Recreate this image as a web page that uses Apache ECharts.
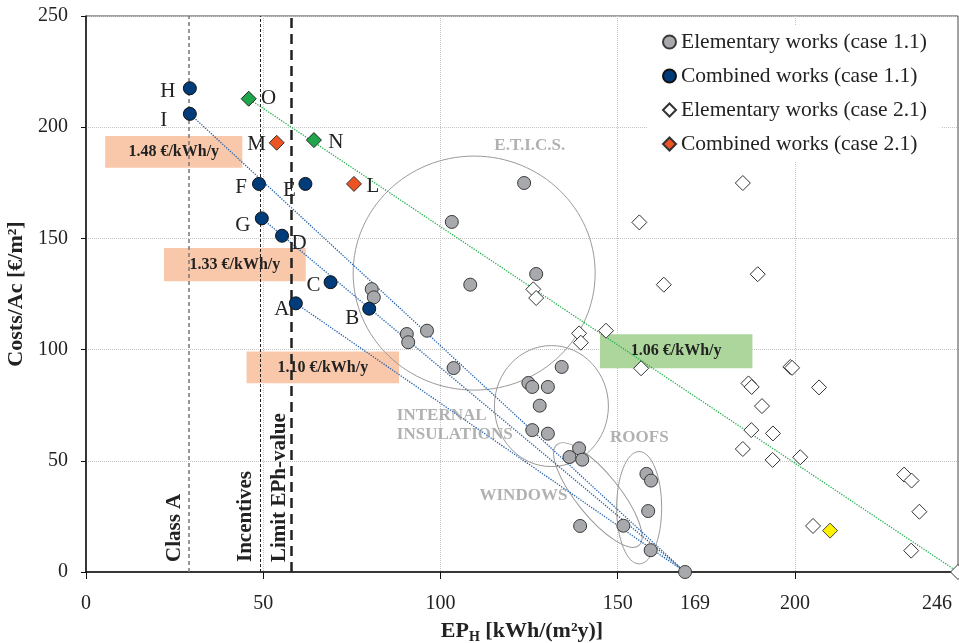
<!DOCTYPE html>
<html>
<head>
<meta charset="utf-8">
<script src="https://cdn.jsdelivr.net/npm/echarts@6/dist/echarts.min.js"></script>
<style>
html, body { margin: 0; padding: 0; background: #fff; }
#chart { width: 959px; height: 643px; }
</style>
</head>
<body>
<div id="chart"></div>
<script>
// EP_H [kWh/(m2y)] , Costs/Ac [EUR/m2]
const elem11 = [
  [80.6,127.2],[81.2,123.5],[90.5,107],[90.9,103.3],[96.2,108.5],[103.2,157.4],[103.7,91.7],
  [108.4,129.2],[123.6,174.9],[124.8,85],[125.9,83.2],[127,134],[128,74.8],[125.9,63.8],
  [130.3,83.2],[130.3,62.2],[134.2,92.2],[139.1,55.6],[136.4,51.7],[140,50.5],[139.4,20.7],
  [151.6,20.8],[158.1,44.1],[159.4,41.1],[158.6,27.4],[159.3,9.8],[169,0]
];
const comb11 = [
  [29.3,217.5,'H'],[29.3,206,'I'],[48.8,174.5,'F'],[61.9,174.5,'E'],[49.6,159,'G'],
  [55.3,151.2,'D'],[69,130.3,'C'],[59.2,120.8,'A'],[79.9,118.4,'B']
];
const elem21 = [
  [126.2,127.1],[127,123.2],[139.1,107.3],[139.6,103.1],[146.7,108.5],[156.1,157.2],[163,129.2],
  [156.6,91.6],[185.3,174.9],[189.5,133.9],[198.7,92.2],[199.2,91.8],[186.9,84.8],[187.8,83.2],
  [206.8,83],[190.7,74.6],[187.7,63.8],[193.8,62.3],[185.3,55.3],[193.7,50.4],[201.5,51.6],
  [230.8,43.8],[232.9,41.1],[235.1,27.1],[205.1,20.7],[232.8,9.6],[246,0]
];
const comb21 = [[53.8,193,'M'],[75.6,174.5,'L']];
const greenPts = [[45.9,212.8,'O'],[64.3,194.2,'N']];
const yellowPts = [[209.9,18.6]];

// cost lines towards the base case
const blueLines = [
  [[29.3,206],[169,0]],
  [[49.6,159],[169,0]],
  [[59.2,120.8],[169,0]]
];
const greenLine = [[45.9,212.8],[246,0]];

const rateLabels = ['1.48 €/kWh/y', '1.33 €/kWh/y', '1.10 €/kWh/y', '1.06 €/kWh/y'];
const rateBoxes = [[5.4,196,44.1,181.8],[22,145.7,62,130.7],[45.3,99.1,88.3,84.9],[145,106.9,188,91.6]];

const guideNames = ['Class A', 'Incentives', 'Limit EPh-value'];
const guideValues = [29.1, 49.2, 57.8];

const noteLabels = ['E.T.I.C.S.', 'INTERNAL\nINSULATIONS', 'ROOFS', 'WINDOWS'];
const notePos = [[125.2,191.5],[87.7,65.9],[156.1,60.3],[123.4,34.2]];

// group outlines: centre x, centre y (data), rx, ry (px), angle (deg)
const outlines = [[109.5,134.4,121,117,0],[131.3,74.6,57,60.5,0],[144.4,34.6,65,21.5,-51],[156.05,28.9,22.5,56.2,0]];

const xLabels = [0, 50, 100, 150, 169, 200, 246];

const serif = '"Liberation Serif", "Times New Roman", serif';
const labelOffsets = {
  H:[-22,3], I:[-26,7], F:[-18,4], E:[-16,7], G:[-19,7], D:[17,8], C:[-17,3], A:[-14,6], B:[-17,10],
  O:[20,0], M:[-20,2], N:[22,2], L:[19,3]
};

function labelled(arr) {
  return arr.map(d => ({
    value: [d[0], d[1]],
    name: d[2],
    label: { offset: labelOffsets[d[2]] }
  }));
}

function points(name, data, symbol, size, fill, border) {
  return {
    name: name,
    type: 'scatter',
    symbol: symbol,
    symbolSize: size,
    z: 5,
    data: data,
    itemStyle: { color: fill, borderColor: border, borderWidth: 1, opacity: 1 },
    label: {
      show: true, position: 'inside', formatter: '{b}',
      color: '#222', fontFamily: serif, fontSize: 21
    },
    emphasis: { disabled: true }
  };
}

const chart = echarts.init(document.getElementById('chart'));

const option = {
  animation: false,
  backgroundColor: '#fff',
  textStyle: { fontFamily: serif },
  grid: {
    left: 86, right: 1, top: 16, bottom: 71,
    outerBoundsMode: 'none', containLabel: false,
    show: true, borderColor: '#444', borderWidth: 1
  },
  legend: {
    data: ['Elementary works (case 1.1)', 'Combined works (case 1.1)', 'Elementary works (case 2.1)', 'Combined works (case 2.1)'],
    orient: 'vertical',
    left: 648, top: 25,
    padding: [6, 14, 6, 14],
    itemWidth: 13, itemHeight: 13, itemGap: 12,
    backgroundColor: '#fff',
    textStyle: { fontFamily: serif, fontSize: 21.5, color: '#222' }
  },
  xAxis: {
    type: 'value', min: 0, max: 246, interval: 50,
    name: '{b|EP}{sub|H}{b| [kWh/(m²y)]}',
    nameLocation: 'middle', nameGap: 46,
    nameTextStyle: {
      rich: {
        b: { fontFamily: serif, fontWeight: 'bold', fontSize: 22, color: '#222', lineHeight: 26 },
        sub: { fontFamily: serif, fontWeight: 'bold', fontSize: 14, color: '#222', lineHeight: 16, verticalAlign: 'bottom' }
      }
    },
    axisLine: { lineStyle: { color: '#111', width: 1.5 } },
    axisTick: { length: 7, customValues: [0, 50, 100, 150, 200], lineStyle: { color: '#111' } },
    axisLabel: {
      customValues: xLabels, margin: 22, color: '#222', fontSize: 20, fontFamily: serif,
      alignMaxLabel: 'right',
      formatter: v => v === 169 ? '{s|169}' : (v === 246 ? '{e|246}' : String(v)),
      rich: {
        s: { fontSize: 20, fontFamily: serif, color: '#222', padding: [0, 0, 4, 20] },
        e: { fontSize: 20, fontFamily: serif, color: '#222', padding: [0, 6, 12, 0] }
      }
    },
    splitLine: { lineStyle: { color: '#c4c4c4', type: 'dotted', width: 1 } }
  },
  yAxis: {
    type: 'value', min: 0, max: 250, interval: 50,
    name: 'Costs/Ac [€/m²]',
    nameLocation: 'middle', nameGap: 50,
    nameTextStyle: { fontFamily: serif, fontWeight: 'bold', fontSize: 22, color: '#222' },
    axisLine: { show: true, lineStyle: { color: '#111', width: 1.5 } },
    axisTick: { show: true, length: 5, lineStyle: { color: '#111' } },
    axisLabel: { margin: 18, color: '#222', fontSize: 20, fontFamily: serif },
    splitLine: { lineStyle: { color: '#c4c4c4', type: 'dotted', width: 1 } }
  },
  series: [
    {
      type: 'custom',
      z: 1,
      silent: true,
      data: outlines,
      renderItem: function (params, api) {
        const c = api.coord([api.value(0), api.value(1)]);
        return {
          type: 'ellipse',
          x: c[0], y: c[1],
          rotation: api.value(4) * Math.PI / 180,
          shape: { cx: 0, cy: 0, rx: api.value(2), ry: api.value(3) },
          style: { fill: 'none', stroke: '#9a9a9a', lineWidth: 1 }
        };
      }
    },
    {
      type: 'line',
      data: [],
      z: 3,
      markArea: {
        silent: true,
        label: { show: true, position: 'inside', color: '#222', fontFamily: serif, fontWeight: 'bold', fontSize: 16 },
        data: rateBoxes.map((b, i) => [
          { name: rateLabels[i], coord: [b[0], b[1]], itemStyle: { color: i === 3 ? '#acd69b' : '#f9c8aa', opacity: 1 } },
          { coord: [b[2], b[3]] }
        ])
      },
      markLine: {
        silent: true,
        symbol: ['none', 'none'],
        label: {
          show: true, position: 'insideStartTop',
          color: '#222', fontFamily: serif, fontWeight: 'bold', fontSize: 21
        },
        data: guideValues.map((v, i) => ({
          xAxis: v,
          label: { formatter: guideNames[i], distance: [[10, 4], [10, 4], [10, 1]][i] },
          lineStyle: [
            { color: '#777', type: [4, 3], width: 1.5 },
            { color: '#222', type: [3, 2], width: 1 },
            { color: '#222', type: [10, 6], width: 2.5 }
          ][i]
        }))
      }
    },
    ...blueLines.map(l => ({
      type: 'line', data: l, symbol: 'none', z: 3, silent: true,
      lineStyle: { color: '#1f5fad', type: 'dotted', width: 1.3 }
    })),
    {
      type: 'line', data: greenLine, symbol: 'none', z: 3, silent: true,
      lineStyle: { color: '#22b14c', type: 'dotted', width: 1.3 }
    },
    points('Elementary works (case 1.1)', elem11, 'circle', 13, '#a7a9ac', '#3a3a3a'),
    points('Combined works (case 1.1)', labelled(comb11), 'circle', 13, '#003b7a', '#111'),
    points('Elementary works (case 2.1)', elem21, 'diamond', 15, '#fff', '#333'),
    points('Combined works (case 2.1)', labelled(comb21), 'diamond', 15, '#ee5423', '#333'),
    points('green', labelled(greenPts), 'diamond', 15, '#1fa54c', '#222'),
    points('yellow', yellowPts, 'diamond', 15, '#fff200', '#444'),
    {
      type: 'scatter',
      symbolSize: 0,
      z: 4,
      silent: true,
      data: notePos.map((p, i) => ({
        value: p,
        name: noteLabels[i],
        label: i === 1 ? { align: 'left' } : {}
      })),
      label: {
        show: true, position: 'inside', formatter: '{b}',
        color: '#9d9d9d', fontFamily: serif, fontWeight: 'bold', fontSize: 17, lineHeight: 19
      }
    }
  ]
};

chart.setOption(option);
</script>
</body>
</html>
